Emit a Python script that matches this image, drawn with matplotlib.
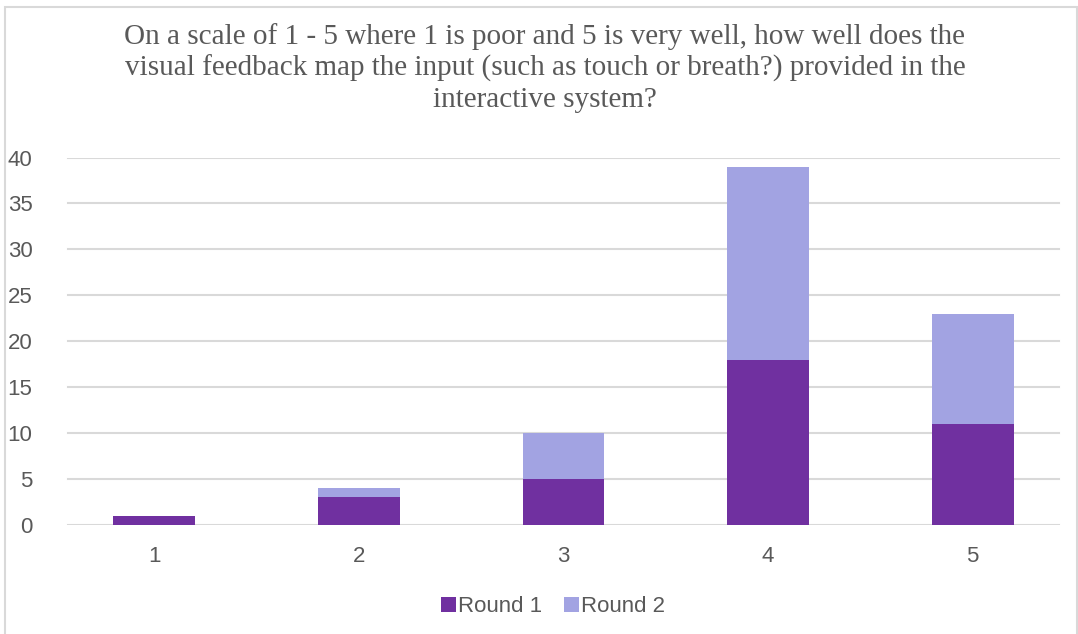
import numpy as np
import matplotlib.pyplot as plt
from matplotlib.patches import Rectangle

categories = ['1', '2', '3', '4', '5']
round1 = [1, 3, 5, 18, 11]
round2 = [0, 1, 5, 21, 12]
yticks = [0, 5, 10, 15, 20, 25, 30, 35, 40]

title = ('On a scale of 1 - 5 where 1 is poor and 5 is very well, how well does the\n'
         'visual feedback map the input (such as touch or breath?) provided in the\n'
         'interactive system?')

W, H = 1078, 634
fig = plt.figure(figsize=(W / 100, H / 100), dpi=100)
grey = '#595959'

# chart frame
fig.patches.append(Rectangle((5 / W, -0.01), 1072 / W, (H - 7) / H + 0.01,
                             transform=fig.transFigure, fill=False,
                             edgecolor='#d9d9d9', linewidth=1.5))

# axes placed in pixel space
left, right, top, bottom = 52, 1075, 157.5, 525
ax = fig.add_axes([left / W, (H - bottom) / H, (right - left) / W, (bottom - top) / H])

x = np.arange(1, len(categories) + 1)
ax.bar(x, round1, width=0.4, color='#7030A0', label='Round 1', zorder=3)
ax.bar(x, round2, width=0.4, bottom=round1, color='#A2A3E2', label='Round 2', zorder=3)

ax.set_xlim(0.5, 5.5)
ax.set_ylim(0, 40)
g0 = (68 - left) / (right - left)
g1 = (1059 - left) / (right - left)
for t in yticks:
    ax.axhline(t, g0, g1, color='#d9d9d9', linewidth=1.5, zorder=1)

for s in ax.spines.values():
    s.set_visible(False)
ax.set_xticks(x)
ax.set_xticklabels(categories)
ax.set_yticks(yticks)
ax.tick_params(length=0, labelsize=16, labelcolor=grey, labelfontfamily='Liberation Sans')
ax.tick_params(axis='x', pad=15)
ax.tick_params(axis='y', pad=14)

fig.text(545 / W, 1 - 68 / H, title, ha='center', va='center', fontsize=21,
         family='Liberation Serif', color=grey, linespacing=1.26)

leg = fig.legend(loc='center', bbox_to_anchor=(553 / W, 1 - 607 / H), ncol=2, frameon=False,
                 prop={'family': 'Liberation Sans', 'size': 16},
                 handlelength=0.65, handleheight=0.65, handletextpad=0.1, columnspacing=1.0)
for t in leg.get_texts():
    t.set_color(grey)

fig.savefig('out.png', dpi=100)
